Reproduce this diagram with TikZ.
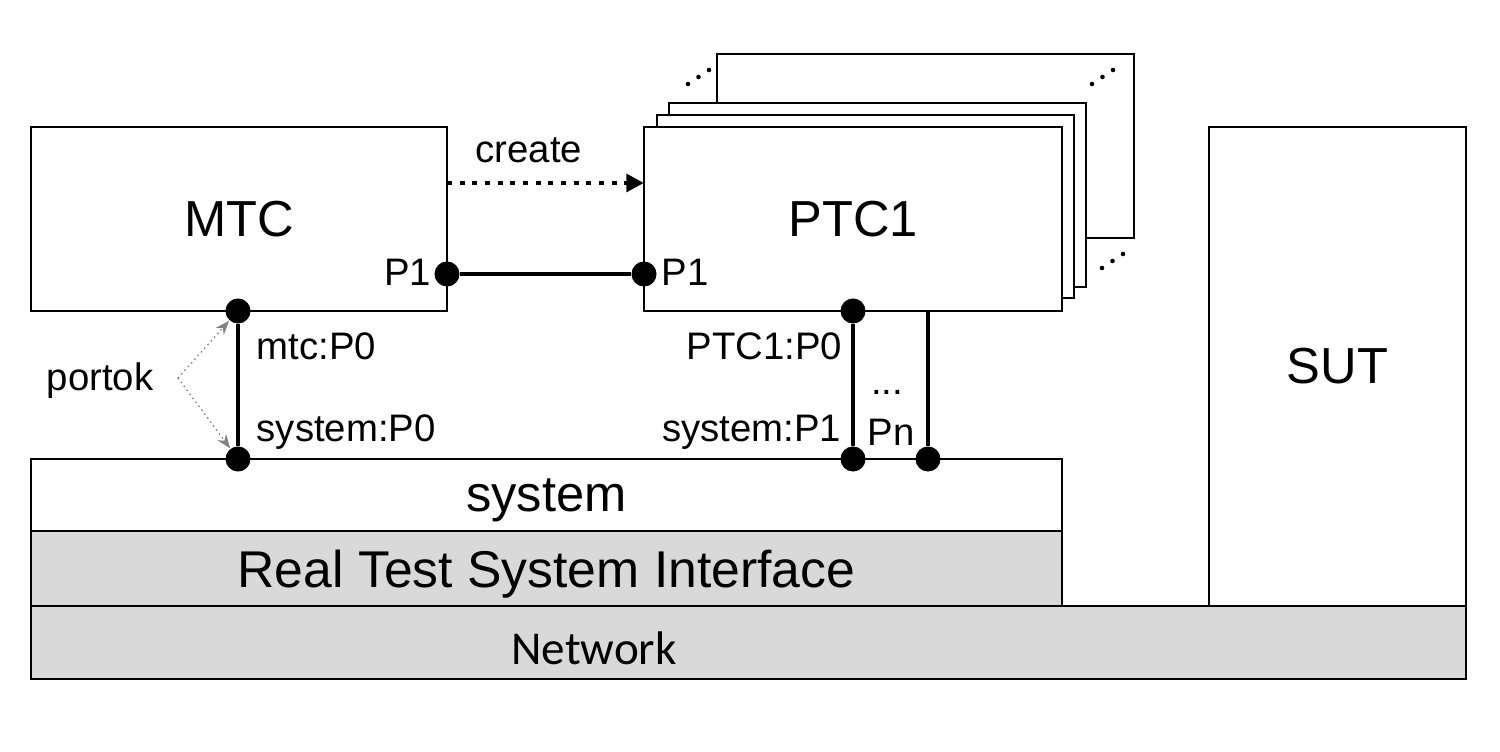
\documentclass[tikz,border=0pt]{standalone}
\usepackage{fontspec}
\setmainfont{Liberation Sans}
\newfontfamily\netfont{Carlito}
\usetikzlibrary{arrows.meta}
\definecolor{layergray}{RGB}{217,217,217}
\def\big{\fontsize{14.4}{17}\selectfont}
\def\lbl{\fontsize{10.9}{13}\selectfont}

\tikzset{
    box/.style={draw, line width=0.6pt, fill=white, inner sep=0pt, outer sep=0pt, font=\big},
    port/.style={circle, fill=black, inner sep=0pt, minimum size=0.25cm},
    conn/.style={line width=1.3pt},
    portlbl/.style={inner sep=0pt, font=\lbl},
}

\begin{document}
\begin{tikzpicture}[x=0.01cm, y=-0.01cm]
            \useasboundingbox (0,0) rectangle (1500,752);

            % layers at the bottom
            \node[box, fill=layergray, minimum width=14.35cm, minimum height=0.73cm] (net) at (748.5,642.5) {};
            \node[inner sep=0pt, font=\netfont\fontsize{13.4}{16}\selectfont] (netlbl) at (594,648) {Network};
            \node[box, fill=layergray, minimum width=10.31cm, minimum height=0.75cm, text depth=0pt,
                  font=\fontsize{14.7}{17}\selectfont] (rtsi) at (546.5,568.5) {Real Test System Interface};
            \node[box, minimum width=10.31cm, minimum height=0.72cm, text depth=0pt] (sys) at (546.5,495) {system};

            \node[box, minimum width=2.57cm, minimum height=4.79cm] (sut) at (1337.5,366.5) {SUT};
            \node[box, minimum width=4.16cm, minimum height=1.84cm] (mtc) at (239,219) {MTC};

            % stack of parallel components
            \node[box, minimum width=4.17cm, minimum height=1.84cm] (ptcD) at (925.5,146) {};
            \node[box, minimum width=4.17cm, minimum height=1.84cm] (ptcC) at (877.5,195) {};
            \node[box, minimum width=4.17cm, minimum height=1.83cm] (ptcB) at (865.5,206.5) {};
            \node[box, minimum width=4.18cm, minimum height=1.84cm] (ptc) at (853,219) {PTC1};

            \foreach \x/\y in {688/84, 1092/84, 1102/268}
                \foreach \i in {0,1,2}
                    \fill (\x+10.5*\i, \y-7*\i) circle[radius=0.65pt];

            % ports
            \node[port] (mtcP1) at (447,274) {};
            \node[port] (ptcP1) at (644,274) {};
            \node[port] (mtcP0) at (238,311) {};
            \node[port] (sysP0) at (238,459) {};
            \node[port] (ptcP0) at (853,311) {};
            \node[port] (sysP1) at (853,459) {};
            \node[port] (sysPn) at (928,459) {};
            \coordinate (ptcPn) at (928,311);

            \node[portlbl, anchor=east] (mtcP1lbl) at (432,272) {P1};
            \node[portlbl, anchor=west] (ptcP1lbl) at (661,272) {P1};
            \node[portlbl, anchor=west] (mtcP0lbl) at (256,346) {mtc:P0};
            \node[portlbl, anchor=west] (sysP0lbl) at (256,432) {system:P0};
            \node[portlbl, anchor=east] (ptcP0lbl) at (843,346) {PTC1:P0};
            \node[portlbl, anchor=east] (sysP1lbl) at (842,432) {system:P1};
            \node[portlbl] (dots) at (887,392) {...};
            \node[portlbl] (pnlbl) at (891,432) {Pn};

            % connections
            \draw[conn] (mtcP1) -- (ptcP1);
            \draw[conn] (mtcP0) -- (sysP0);
            \draw[conn] (ptcP0) -- (sysP1);
            \draw[conn] (ptcPn) -- (sysPn);

            \draw[line width=1.3pt, dash pattern=on 1.4pt off 2.2pt, -{Triangle[length=5pt,width=5pt]}]
                ([yshift=0.36cm]mtc.east) -- ([yshift=0.36cm]ptc.west);
            \node[portlbl] (create) at (529,150) {create};

            \node[portlbl] (portok) at (100,381) {portok};
            \coordinate (fork) at (178,378);
            \draw[gray, line width=0.4pt, densely dotted, -{Stealth[length=4pt,width=3pt]}] (fork) -- (mtcP0);
            \draw[gray, line width=0.4pt, densely dotted, -{Stealth[length=4pt,width=3pt]}] (fork) -- (sysP0);
        \end{tikzpicture}
\end{document}
